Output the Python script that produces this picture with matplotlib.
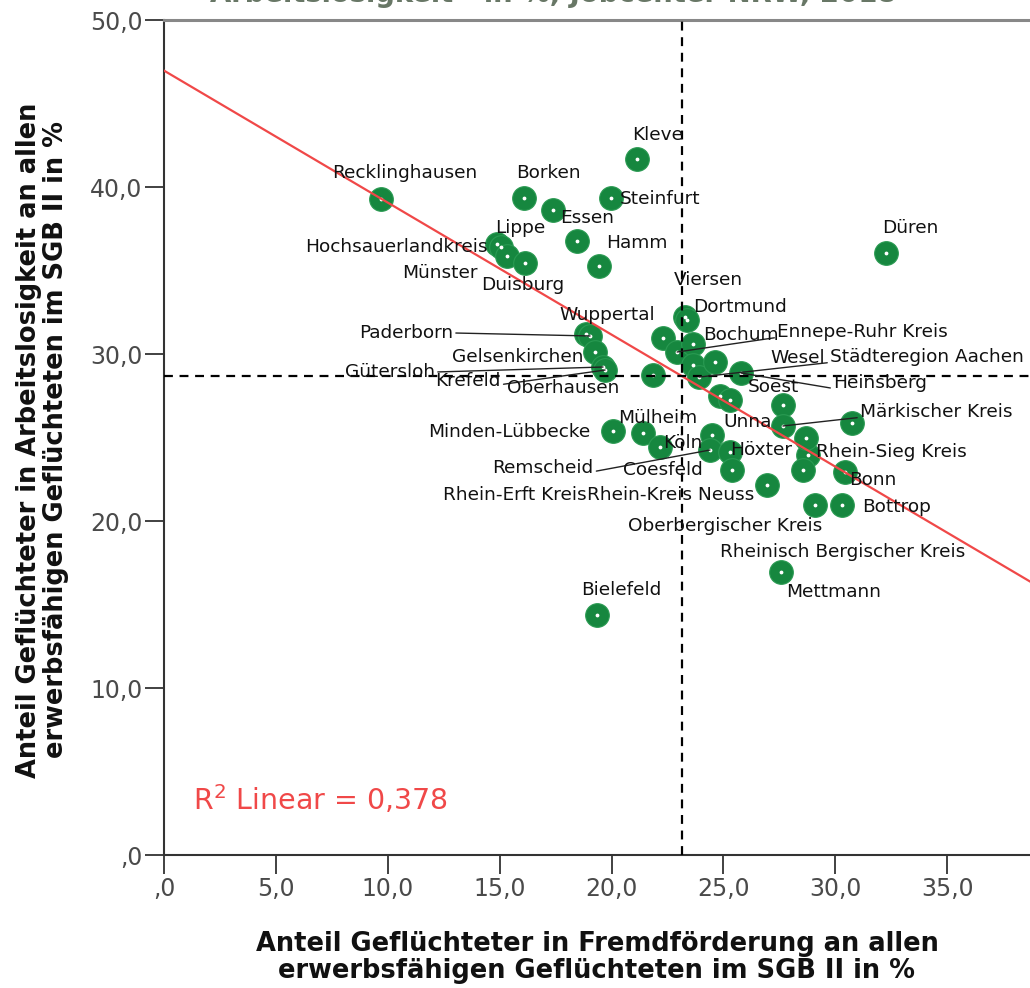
import matplotlib
matplotlib.use('Agg')
import matplotlib.pyplot as plt
from matplotlib.ticker import FuncFormatter, MultipleLocator

# Kreise / Jobcenter NRW 2018
names = [
    'Recklinghausen', 'Borken', '', 'Steinfurt', 'Kleve',
    'Hochsauerlandkreis', 'Lippe', 'Münster', 'Duisburg', 'Essen', 'Hamm',
    'Düren', 'Wuppertal', 'Paderborn', 'Gelsenkirchen', 'Gütersloh', 'Krefeld',
    'Oberhausen', '', 'Viersen', 'Dortmund', 'Ennepe-Ruhr Kreis', 'Bochum',
    'Wesel', 'Städteregion Aachen', '', 'Heinsberg', 'Soest', '', 'Unna',
    'Märkischer Kreis', '', 'Minden-Lübbecke', 'Mülheim', 'Köln',
    'Rhein-Erft Kreis', 'Remscheid', 'Höxter', 'Coesfeld', 'Rhein-Kreis Neuss',
    'Rhein-Sieg Kreis', '', 'Oberbergischer Kreis', 'Bonn',
    'Rheinisch Bergischer Kreis', 'Bottrop', 'Mettmann', 'Bielefeld',
]
# Anteil Geflüchteter in Fremdförderung (%)
fremd = [
    9.70, 16.09, 17.39, 19.98, 21.14,
    14.88, 15.06, 15.33, 16.13, 18.46, 19.44,
    32.27, 18.86, 19.04, 19.26, 19.62, 19.71,
    21.85, 22.30, 23.28, 23.37, 22.93, 23.64,
    23.64, 23.91, 24.63, 25.79, 24.85, 25.30, 27.66,
    27.66, 30.75, 20.07, 21.41, 22.17,
    24.49, 24.40, 25.30, 25.39, 26.95,
    28.78, 28.69, 28.56, 30.44,
    29.09, 30.30, 27.58, 19.35,
]
# Anteil Geflüchteter in Arbeitslosigkeit (%)
arbeitslos = [
    39.28, 39.34, 38.62, 39.34, 41.68,
    36.59, 36.41, 35.87, 35.45, 36.77, 35.27,
    36.05, 31.20, 31.08, 30.12, 29.22, 29.04,
    28.74, 30.96, 32.22, 32.04, 30.12, 30.60,
    29.34, 28.62, 29.52, 28.86, 27.49, 27.25, 26.95,
    25.69, 25.87, 25.39, 25.27, 24.43,
    25.15, 24.25, 24.13, 23.05, 22.16,
    23.95, 24.97, 23.05, 22.93,
    20.96, 20.96, 16.95, 14.37,
]

mean_x = 23.17
mean_y = 28.68
fit_intercept = 46.97
fit_slope = -0.7905
r2_text = 'R$^2$ Linear = 0,378'

# label placement: offset in pixels (dx right, dy down), alignment, leader line
label_pos = {
    'Recklinghausen': (24, -26, 'center', False),
    'Borken': (24, -25, 'center', False),
    'Steinfurt': (9, 1, 'left', False),
    'Kleve': (21, -24, 'center', False),
    'Hochsauerlandkreis': (-9, 3, 'right', False),
    'Lippe': (19, -19, 'center', False),
    'Münster': (-29, 17, 'right', False),
    'Duisburg': (-2, 22, 'center', False),
    'Essen': (10, -23, 'center', False),
    'Hamm': (38, -23, 'center', False),
    'Düren': (24, -25, 'center', False),
    'Wuppertal': (21, -19, 'center', False),
    'Paderborn': (-137, -3, 'right', True),
    'Gelsenkirchen': (-77, 5, 'center', False),
    'Gütersloh': (-168, 5, 'right', True),
    'Krefeld': (-137, 11, 'center', True),
    'Oberhausen': (-90, 13, 'center', False),
    'Viersen': (23, -37, 'center', False),
    'Dortmund': (6, -13, 'left', False),
    'Ennepe-Ruhr Kreis': (100, -20, 'left', True),
    'Bochum': (10, -9, 'left', False),
    'Wesel': (105, -7, 'center', False),
    'Städteregion Aachen': (131, -20, 'left', True),
    'Heinsberg': (92, 10, 'left', True),
    'Soest': (53, -9, 'center', False),
    'Unna': (-35, 17, 'center', False),
    'Märkischer Kreis': (77, -14, 'left', True),
    'Minden-Lübbecke': (-23, 1, 'right', False),
    'Mülheim': (15, -15, 'center', False),
    'Köln': (23, -4, 'center', False),
    'Rhein-Erft Kreis': (-125, 60, 'right', False),
    'Remscheid': (-167, 18, 'center', True),
    'Höxter': (0, -2, 'left', False),
    'Coesfeld': (-69, 0, 'center', False),
    'Rhein-Kreis Neuss': (-180, 10, 'left', False),
    'Rhein-Sieg Kreis': (8, -3, 'left', False),
    'Oberbergischer Kreis': (-78, 56, 'center', False),
    'Bonn': (28, 8, 'center', False),
    'Rheinisch Bergischer Kreis': (28, 47, 'center', False),
    'Bottrop': (55, 2, 'center', False),
    'Mettmann': (52, 20, 'center', False),
    'Bielefeld': (24, -25, 'center', False),
}

plt.rcParams['font.family'] = 'DejaVu Sans'

fig = plt.figure(figsize=(10.3, 9.88), dpi=100)
ax = fig.add_axes([164 / 1030, 1 - 855 / 988, 1 - 164 / 1030, (855 - 20) / 988])

ax.scatter(fremd, arbeitslos, s=290, color='#16873f', edgecolors='#2a9a52',
           linewidths=0.8, zorder=2)
ax.scatter(fremd, arbeitslos, s=3, color='white', zorder=3)

xs = [0, 45]
ax.plot(xs, [fit_intercept + fit_slope * v for v in xs], color='#f04848', lw=1.6, zorder=4)
ax.axvline(mean_x, color='black', lw=1.6, ls=(0, (4, 3)), zorder=4)
ax.axhline(mean_y, color='black', lw=1.6, ls=(0, (4, 3)), zorder=4)

for n, xv, yv in zip(names, fremd, arbeitslos):
    if not n:
        continue
    dx, dy, ha, leader = label_pos[n]
    props = None
    if leader:
        rel = {'right': (1, 0.5), 'left': (0, 0.2), 'center': (1, 0.3)}[ha]
        props = dict(arrowstyle='-', color='#222222', lw=1.0, shrinkA=0, shrinkB=0, relpos=rel)
    ax.annotate(n, (xv, yv), xytext=(dx, -dy), textcoords='offset pixels',
                ha=ha, va='center', fontsize=13.3, color='#111111',
                arrowprops=props, zorder=5)

ax.text(1.3, 3.3, r2_text, color='#f04848', fontsize=20.5, va='center', ha='left')

ax.set_xlim(0, 38.7)
ax.set_ylim(0, 50)
ax.xaxis.set_major_locator(MultipleLocator(5))
ax.yaxis.set_major_locator(MultipleLocator(10))


def fmt(v, pos):
    s = f'{v:.1f}'.replace('.', ',')
    return ',0' if v == 0 else s


ax.xaxis.set_major_formatter(FuncFormatter(fmt))
ax.yaxis.set_major_formatter(FuncFormatter(fmt))
ax.tick_params(direction='out', length=13.5, width=1.3, colors='#333333',
               labelsize=17, labelcolor='#4a4a4a', pad=2)

ax.spines['right'].set_visible(False)
ax.spines['top'].set_color('#888888')
ax.spines['top'].set_linewidth(2.2)
ax.spines['left'].set_color('#333333')
ax.spines['bottom'].set_color('#333333')
ax.spines['left'].set_linewidth(1.5)
ax.spines['bottom'].set_linewidth(1.5)

fig.text(597 / 1030, 1 - 957 / 988,
         'Anteil Geflüchteter in Fremdförderung an allen\nerwerbsfähigen Geflüchteten im SGB II in %',
         ha='center', va='center', fontsize=18.5, fontweight='bold', color='#111111',
         linespacing=1.05)
fig.text(43 / 1030, 1 - 440 / 988,
         'Anteil Geflüchteter in Arbeitslosigkeit an allen\nerwerbsfähigen Geflüchteten im SGB II in %',
         ha='center', va='center', rotation=90, fontsize=18.5, fontweight='bold',
         color='#111111', linespacing=1.05)
# title sits mostly above the canvas, as in the original export
fig.text(553 / 1030, 1 - 2 / 988, 'Arbeitslosigkeit - in %, Jobcenter NRW, 2018',
         ha='center', va='baseline', fontsize=19.8, fontweight='bold', color='#687766')

fig.savefig('out.png', dpi=100)
